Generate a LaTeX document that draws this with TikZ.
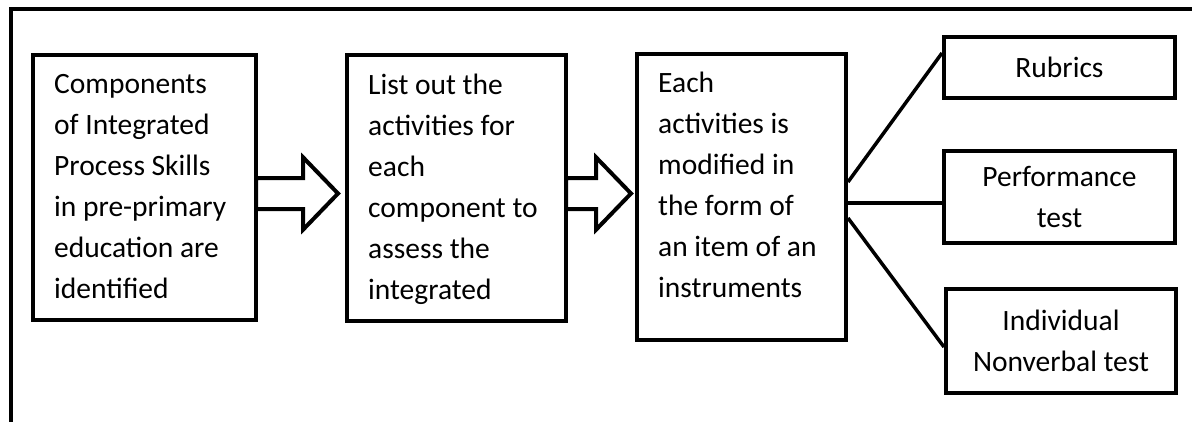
\documentclass[tikz,border=0pt]{standalone}
\usepackage{fontspec}
\setmainfont{Carlito}
\usetikzlibrary{shapes.arrows}
\newcommand{\boxfont}{\fontsize{29.5}{41}\selectfont}
\tikzset{
    common/.style={draw, rectangle, line width=4pt, inner sep=0pt},
    stage/.style={common},
    tool/.style={common, align=center, font=\boxfont},
    stagetext/.style={anchor=north west, align=left, inner sep=0pt, font=\boxfont},
    blockarrow/.style={draw, single arrow, line width=4pt, inner xsep=0pt, inner ysep=13.5pt,
        outer sep=0pt, anchor=tail, single arrow head extend=20.5pt, single arrow tip angle=92},
    link/.style={line width=3.5pt},
    frame/.style={line width=3.5pt}
}
\begin{document}
\begin{tikzpicture}[x=1pt,y=-1pt]
    \useasboundingbox (0,0) rectangle (1192,421);
    \draw[frame] (11,430) |- (1200,9);

    % the three stages
    \node[stage, minimum width=223pt, minimum height=265pt] (b1) at (144.5,187.5) {};
    \node[stage, minimum width=219pt, minimum height=266pt] (b2) at (456.5,188) {};
    \node[stage, minimum width=209pt, minimum height=286pt] (b3) at (741.5,197) {};

    \node[stagetext] (b1-text) at ([shift={(23pt,-21pt)}]b1.north west)
        {Components\\of Integrated\\Process Skills\\in pre-primary\\education are\\identified};
    \node[stagetext] (b2-text) at ([shift={(23pt,-21pt)}]b2.north west)
        {List out the\\activities for\\each\\component to\\assess the\\integrated};
    \node[stagetext] (b3-text) at ([shift={(23pt,-20pt)}]b3.north west)
        {Each\\activities is\\modified in\\the form of\\an item of an\\instruments};

    \node[blockarrow, minimum height=82pt] (a1) at ([xshift=-2pt,yshift=-6pt]b1.east) {};
    \node[blockarrow, minimum height=65pt] (a2) at ([xshift=-2pt,yshift=-5.5pt]b2.east) {};

    % the instruments
    \node[tool, minimum width=231pt, minimum height=61pt] (r1) at (1059.5,67.5) {Rubrics};
    \node[tool, minimum width=231pt, minimum height=92pt] (r2) at (1059.5,197) {Performance\\test};
    \node[tool, minimum width=230pt, minimum height=104pt] (r3) at (1061,341) {Individual\\Nonverbal test};

    \draw[link] ([yshift=15pt]b3.east) -- ([yshift=14.5pt]r1.west);
    \draw[link] ([yshift=-6pt]b3.east) -- ([yshift=-6pt]r2.west);
    \draw[link] ([yshift=-21pt]b3.east) -- ([yshift=-6pt]r3.west);
\end{tikzpicture}
\end{document}
